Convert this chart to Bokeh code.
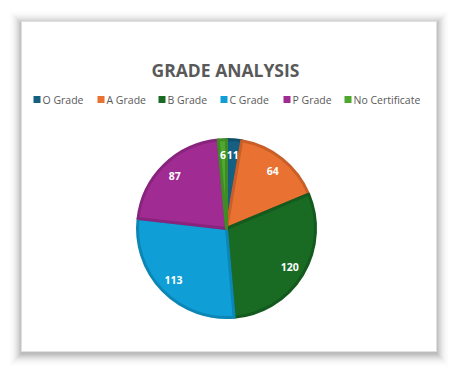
import numpy as np
from bokeh.plotting import figure
from bokeh.models import Range1d, ColumnDataSource
from bokeh.core.properties import value
from bokeh.embed import file_html
from bokeh.resources import INLINE

# ---- data ----
categories = ["O Grade", "A Grade", "B Grade", "C Grade", "P Grade", "No Certificate"]
counts = [11, 64, 120, 113, 87, 6]
colors = ["#156082", "#E97132", "#196B24", "#0F9ED5", "#A02B93", "#4EA72E"]
edge_colors = ["#114E6B", "#C85F28", "#145A1E", "#0C86B5", "#88247D", "#3F8C25"]
title_text = "GRADE ANALYSIS"

W, H = 457, 372
p = figure(width=W, height=H, output_backend="svg", toolbar_location=None,
           x_range=Range1d(0, W), y_range=Range1d(0, H), min_border=0,
           background_fill_color="white", border_fill_color="white")
p.axis.visible = False
p.grid.visible = False
p.outline_line_color = None

# card shadow (soft, layered, fading outward)
cl, cr, cb, ct = 21, 436, 21, 351
N = 16
for k in range(N, 0, -1):
    a = 0.05 * (1 - (k - 1) / N) ** 2
    p.quad(left=[cl - k], right=[cr + k], bottom=[cb - k - 2], top=[ct + k - 2],
           fill_color="black", fill_alpha=a, line_color=None)
p.quad(left=[cl], right=[cr], bottom=[cb], top=[ct], fill_color="white",
       line_color="#e0e0e0", line_width=1)

# title
p.text(x=[225], y=[303], text=[title_text], text_align="center", text_baseline="middle",
       text_font=value("Open Sans"), text_font_style="bold", text_font_size="17.5px",
       text_color="#595959")

# legend
sq_left = [33, 97, 158, 220, 283, 344]
ly = 273
p.quad(left=sq_left, right=[x + 7 for x in sq_left], bottom=[ly - 3.5] * 6, top=[ly + 3.5] * 6,
       fill_color=colors, line_color=None)
p.text(x=[x + 9 for x in sq_left], y=[ly] * 6, text=categories, text_align="left",
       text_baseline="middle", text_font=value("Open Sans"), text_font_size="10.5px",
       text_color="#595959")

# pie
cx, cy, r = 226, 144, 89
vals = np.array(counts, dtype=float)
frac = vals / vals.sum()
cum_end = np.cumsum(frac) * 2 * np.pi
cum_start = cum_end - frac * 2 * np.pi
start = np.pi / 2 - cum_end
end = np.pi / 2 - cum_start
mid = (start + end) / 2
src = ColumnDataSource(dict(start=start, end=end, color=colors, edge=edge_colors,
                            label=[str(c) for c in counts],
                            lx=cx + 74 * np.cos(mid), ly=cy + 74 * np.sin(mid)))
p.wedge(x=cx, y=cy, radius=r, start_angle="start", end_angle="end", source=src,
        fill_color="color", line_color="edge", line_width=3, line_join="round")
p.text(x="lx", y="ly", text="label", source=src, text_align="center", text_baseline="middle",
       text_font=value("Open Sans"), text_font_style="bold", text_font_size="10.5px",
       text_color="white")

open("out.html", "w").write(file_html(p, INLINE))
